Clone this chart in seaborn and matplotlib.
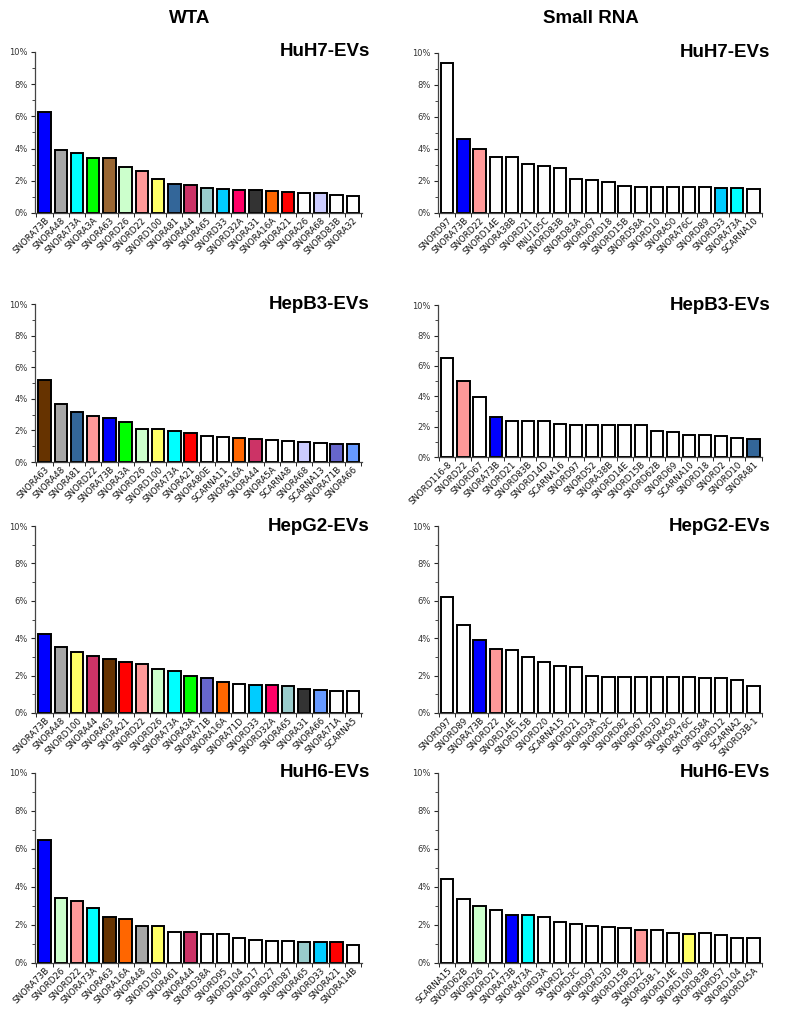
import matplotlib
matplotlib.use("Agg")
import matplotlib.pyplot as plt
import seaborn as sns
import pandas as pd
from matplotlib.ticker import MultipleLocator, FuncFormatter, FixedLocator

sns.set_style("white")
plt.rcParams['font.family'] = ['DejaVu Sans']

# ---- colours (by RNA) ----
BLUE = "#0000FF"; GRAY = "#A6A6A6"; CYAN = "#00FFFF"; GREEN = "#00FF00"
BROWN_L = "#996633"; BROWN_D = "#663300"; LGREEN = "#CCFFCC"; SALMON = "#FF9999"
YELLOW = "#FFFF66"; STEEL = "#336699"; RASP = "#CC3366"; LTEAL = "#99CCCC"
SKY = "#00CCFF"; MAGRED = "#FF0066"; DARK = "#333333"; ORANGE = "#FF6600"
RED = "#FF0000"; WHITE = "#FFFFFF"; LAV = "#CCCCFF"; SLATE = "#6666CC"; CORN = "#6699FF"

# ---- WTA HuH7 ----
wta_huh7_names = ["SNORA73B", "SNORA48", "SNORA73A", "SNORA3A", "SNORA63", "SNORD26", "SNORD22",
                  "SNORD100", "SNORA81", "SNORA44", "SNORA65", "SNORD33", "SNORD32A", "SNORA31",
                  "SNORA16A", "SNORA21", "SNORA26", "SNORA68", "SNORD83B", "SNORA32"]
wta_huh7_vals = [6.27, 3.89, 3.75, 3.44, 3.40, 2.84, 2.59, 2.13, 1.82, 1.72, 1.53, 1.49, 1.45,
                 1.41, 1.37, 1.30, 1.22, 1.22, 1.10, 1.04]
wta_huh7_cols = [BLUE, GRAY, CYAN, GREEN, BROWN_L, LGREEN, SALMON, YELLOW, STEEL, RASP, LTEAL,
                 SKY, MAGRED, DARK, ORANGE, RED, WHITE, LAV, WHITE, WHITE]

# ---- Small RNA HuH7 ----
srna_huh7_names = ["SNORD97", "SNORA73B", "SNORD22", "SNORD14E", "SNORA38B", "SNORD21", "RNU105C",
                   "SNORD83B", "SNORD83A", "SNORD67", "SNORD18", "SNORD15B", "SNORD58A", "SNORD10",
                   "SNORA50", "SNORA76C", "SNORD89", "SNORD33", "SNORA73A", "SCARNA10"]
srna_huh7_vals = [9.37, 4.65, 3.98, 3.50, 3.50, 3.04, 2.94, 2.79, 2.15, 2.04, 1.92, 1.69, 1.65,
                  1.65, 1.60, 1.60, 1.60, 1.56, 1.56, 1.50]
srna_huh7_cols = [WHITE, BLUE, SALMON] + [WHITE] * 14 + [SKY, CYAN, WHITE]

# ---- WTA HepB3 ----
wta_hepb3_names = ["SNORA63", "SNORA48", "SNORA81", "SNORD22", "SNORA73B", "SNORA3A", "SNORD26",
                   "SNORD100", "SNORA73A", "SNORA21", "SNORA80E", "SCARNA11", "SNORA16A", "SNORA44",
                   "SNORA5A", "SCARNA8", "SNORA68", "SCARNA13", "SNORA71B", "SNORA66"]
wta_hepb3_vals = [5.21, 3.67, 3.19, 2.89, 2.81, 2.51, 2.07, 2.07, 1.96, 1.84, 1.67, 1.60, 1.54,
                  1.43, 1.39, 1.35, 1.29, 1.22, 1.16, 1.12]
wta_hepb3_cols = [BROWN_D, GRAY, STEEL, SALMON, BLUE, GREEN, LGREEN, YELLOW, CYAN, RED, WHITE,
                  WHITE, ORANGE, RASP, WHITE, WHITE, LAV, WHITE, SLATE, CORN]

# ---- Small RNA HepB3 ----
srna_hepb3_names = ["SNORD116-8", "SNORD22", "SNORD67", "SNORA73B", "SNORD21", "SNORD83B",
                    "SNORD14D", "SCARNA16", "SNORD97", "SNORD52", "SNORA38B", "SNORD14E",
                    "SNORD15B", "SNORD62B", "SNORD69", "SCARNA10", "SNORD18", "SNORD2",
                    "SNORD10", "SNORA81"]
srna_hepb3_vals = [6.51, 5.01, 3.95, 2.63, 2.34, 2.34, 2.34, 2.19, 2.14, 2.14, 2.14, 2.08, 2.08,
                   1.74, 1.68, 1.48, 1.43, 1.39, 1.26, 1.17]
srna_hepb3_cols = [WHITE, SALMON, WHITE, BLUE] + [WHITE] * 15 + [STEEL]

# ---- WTA HepG2 ----
wta_hepg2_names = ["SNORA73B", "SNORA48", "SNORD100", "SNORA44", "SNORA63", "SNORA21", "SNORD22",
                   "SNORD26", "SNORA73A", "SNORA3A", "SNORA71B", "SNORA16A", "SNORA71D", "SNORD33",
                   "SNORD32A", "SNORA65", "SNORA31", "SNORA66", "SNORA71A", "SCARNA5"]
wta_hepg2_vals = [4.20, 3.55, 3.25, 3.05, 2.90, 2.75, 2.60, 2.35, 2.25, 2.00, 1.85, 1.65, 1.55,
                  1.50, 1.50, 1.45, 1.30, 1.25, 1.20, 1.15]
wta_hepg2_cols = [BLUE, GRAY, YELLOW, RASP, BROWN_D, RED, SALMON, LGREEN, CYAN, GREEN, SLATE,
                  ORANGE, WHITE, SKY, MAGRED, LTEAL, DARK, CORN, WHITE, WHITE]

# ---- Small RNA HepG2 ----
srna_hepg2_names = ["SNORD97", "SNORD89", "SNORA73B", "SNORD22", "SNORD14E", "SNORD15B", "SNORD20",
                    "SCARNA15", "SNORD21", "SNORD3A", "SNORD3C", "SNORD82", "SNORD67", "SNORD3D",
                    "SNORA50", "SNORA76C", "SNORD58A", "SNORD12", "SCARNA2", "SNORD3B-1"]
srna_hepg2_vals = [6.20, 4.70, 3.90, 3.40, 3.35, 3.00, 2.75, 2.50, 2.45, 2.00, 1.95, 1.90, 1.90,
                   1.90, 1.90, 1.90, 1.85, 1.85, 1.75, 1.45]
srna_hepg2_cols = [WHITE, WHITE, BLUE, SALMON] + [WHITE] * 16

# ---- WTA HuH6 ----
wta_huh6_names = ["SNORA73B", "SNORD26", "SNORD22", "SNORA73A", "SNORA63", "SNORA16A", "SNORA48",
                  "SNORD100", "SNORA61", "SNORA44", "SNORD38A", "SNORD95", "SNORD104", "SNORD17",
                  "SNORD27", "SNORD87", "SNORA65", "SNORD33", "SNORA21", "SNORA14B"]
wta_huh6_vals = [6.45, 3.40, 3.25, 2.90, 2.40, 2.30, 1.95, 1.95, 1.65, 1.65, 1.50, 1.50, 1.30,
                 1.20, 1.15, 1.15, 1.10, 1.10, 1.10, 0.95]
wta_huh6_cols = [BLUE, LGREEN, SALMON, CYAN, BROWN_D, ORANGE, GRAY, YELLOW, WHITE, RASP, WHITE,
                 WHITE, WHITE, WHITE, WHITE, WHITE, LTEAL, SKY, RED, WHITE]

# ---- Small RNA HuH6 ----
srna_huh6_names = ["SCARNA15", "SNORD62B", "SNORD26", "SNORD21", "SNORA73B", "SNORA73A", "SNORD3A",
                   "SNORD2", "SNORD3C", "SNORD97", "SNORD3D", "SNORD15B", "SNORD22", "SNORD3B-1",
                   "SNORD14E", "SNORD100", "SNORD83B", "SNORD57", "SNORD104", "SNORD45A"]
srna_huh6_vals = [4.40, 3.35, 3.00, 2.80, 2.50, 2.50, 2.40, 2.15, 2.05, 1.95, 1.90, 1.85, 1.75,
                  1.75, 1.60, 1.50, 1.55, 1.45, 1.30, 1.30]
srna_huh6_cols = [WHITE, WHITE, LGREEN, WHITE, BLUE, CYAN] + [WHITE] * 6 + [SALMON, WHITE, WHITE,
                  YELLOW, WHITE, WHITE, WHITE, WHITE]

panels = [
    (wta_huh7_names, wta_huh7_vals, wta_huh7_cols, "HuH7-EVs", [0.044, 0.791, 0.414, 0.158]),
    (srna_huh7_names, srna_huh7_vals, srna_huh7_cols, "HuH7-EVs", [0.554, 0.791, 0.411, 0.157]),
    (wta_hepb3_names, wta_hepb3_vals, wta_hepb3_cols, "HepB3-EVs", [0.044, 0.5466, 0.414, 0.155]),
    (srna_hepb3_names, srna_hepb3_vals, srna_hepb3_cols, "HepB3-EVs", [0.554, 0.5515, 0.411, 0.149]),
    (wta_hepg2_names, wta_hepg2_vals, wta_hepg2_cols, "HepG2-EVs", [0.044, 0.3003, 0.414, 0.1835]),
    (srna_hepg2_names, srna_hepg2_vals, srna_hepg2_cols, "HepG2-EVs", [0.554, 0.3003, 0.411, 0.1835]),
    (wta_huh6_names, wta_huh6_vals, wta_huh6_cols, "HuH6-EVs", [0.044, 0.055, 0.414, 0.1865]),
    (srna_huh6_names, srna_huh6_vals, srna_huh6_cols, "HuH6-EVs", [0.554, 0.055, 0.411, 0.1865]),
]

fig = plt.figure(figsize=(7.9, 10.19), dpi=100)

for names, vals, cols, title, rect in panels:
    ax = fig.add_axes(rect)
    df = pd.DataFrame({"rna": names, "pct": vals})
    sns.barplot(data=df, x="rna", y="pct", hue="rna", palette=cols, legend=False,
                width=0.76, edgecolor="black", linewidth=1.4, saturation=1, ax=ax)
    n = len(names)
    ax.set_xlim(-0.6, n - 0.45)
    ax.set_ylim(0, 10)
    ax.set_xlabel("")
    ax.set_ylabel("")
    for s in ["top", "right"]:
        ax.spines[s].set_visible(False)
    for s in ["left", "bottom"]:
        ax.spines[s].set_color("#444444")
        ax.spines[s].set_linewidth(0.9)
    ax.yaxis.set_major_locator(MultipleLocator(2))
    ax.yaxis.set_minor_locator(MultipleLocator(1))
    ax.yaxis.set_major_formatter(FuncFormatter(lambda v, p: f"{v:.0f}%"))
    ax.tick_params(axis="y", which="major", length=3, width=0.8, labelsize=6,
                   labelcolor="#333333", direction="out", left=True, pad=2)
    ax.tick_params(axis="y", which="minor", length=2, width=0.6, direction="out", left=True)
    ax.xaxis.set_minor_locator(FixedLocator([i + 0.5 for i in range(-1, n)]))
    ax.tick_params(axis="x", which="major", length=0, labelsize=6.2, pad=2, labelcolor="#111111")
    ax.tick_params(axis="x", which="minor", length=3, width=0.7, direction="out", bottom=True)
    ax.set_xticks(range(n))
    ax.set_xticklabels(names, rotation=45, ha="right", rotation_mode="anchor")
    ax.text(1.025, 1.0, title, transform=ax.transAxes, ha="right", va="center",
            fontsize=13.5, fontweight="bold", family="Liberation Sans", color="black")

fig.text(0.24, 0.982, "WTA", ha="center", va="center", fontsize=13.5, fontweight="bold",
         family="Liberation Sans", color="black")
fig.text(0.748, 0.982, "Small RNA", ha="center", va="center", fontsize=13.5, fontweight="bold",
         family="Liberation Sans", color="black")

fig.savefig("out.png", dpi=100)
